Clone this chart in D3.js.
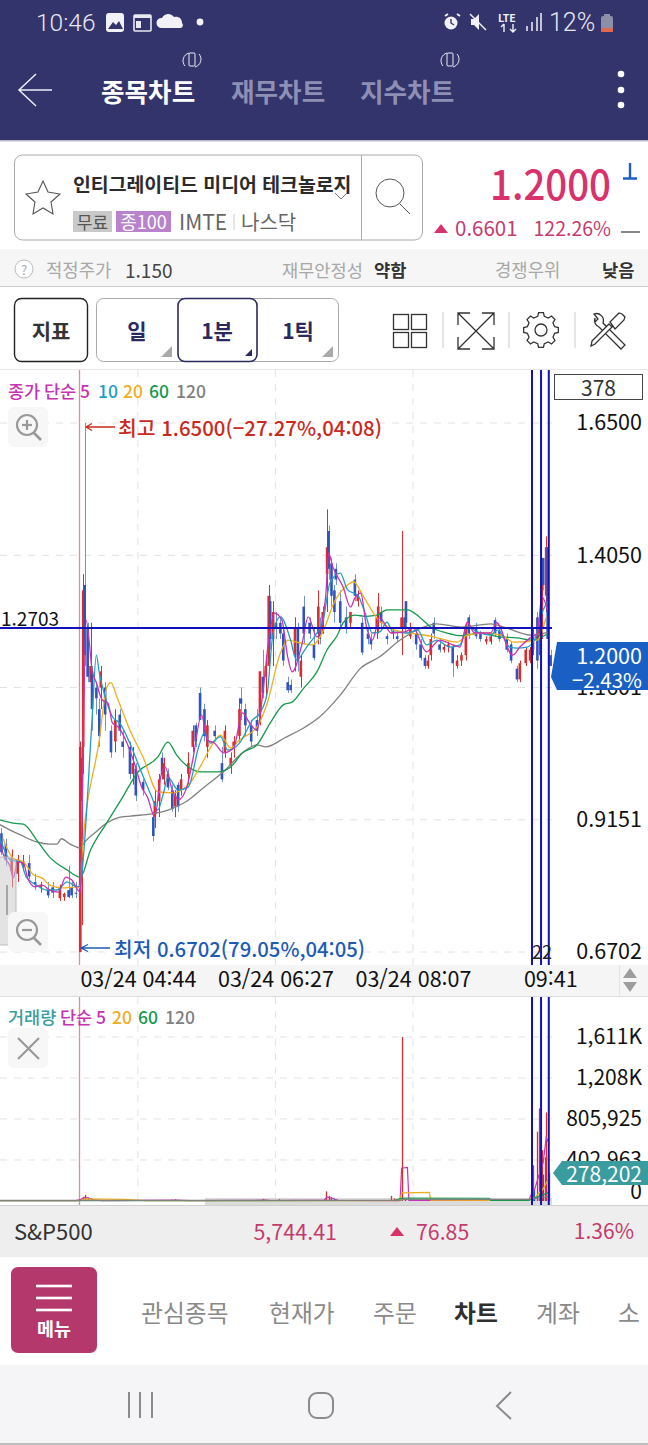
<!DOCTYPE html>
<html lang="ko">
<head>
<meta charset="UTF-8" />
<script src="https://d3js.org/d3.v7.min.js"></script>
<title>IMTE 1분 차트</title>
<style>
  html, body { margin: 0; padding: 0; background: #fff; }
  svg { display: block; font-family: "Noto Sans CJK KR", "Noto Sans", sans-serif; }
</style>
</head>
<body>
<script type="text/javascript">
// candles: bar, open, high, low, close
var candles = [
  [1,.890,.900,.850,.855],[4,.870,.880,.830,.840],[8,.820,.860,.790,.845],[12,.815,.850,.800,.840],
  [16,.830,.850,.820,.838],[20,.835,.850,.805,.810],[24,.800,.815,.785,.795],[28,.790,.800,.780,.795],
  [33,.785,.800,.770,.775],[36,.790,.800,.770,.780],[41,.770,.795,.765,.790],[44,.772,.780,.765,.778],
  [47,.785,.830,.770,.772],[49,.790,.800,.770,.775],[52,.780,.800,.770,.778],
  [55,.670,1.060,.670,1.050],[56,.950,1.050,.720,1.030],[57,1.050,1.370,1.000,1.340],[58,1.350,1.650,1.200,1.220],
  [60,1.270,1.280,1.170,1.180],[62,1.170,1.280,1.130,1.200],[63,1.190,1.200,1.080,1.120],[66,1.160,1.170,1.110,1.140],
  [68,1.120,1.140,1.050,1.070],[69,1.160,1.200,1.120,1.190],[72,1.160,1.170,1.080,1.110],[76,1.080,1.090,1.030,1.040],
  [79,1.060,1.120,1.040,1.100],[82,1.110,1.120,1.070,1.080],[84,1.060,1.080,1.030,1.050],[89,1.050,1.060,.990,1.000],
  [91,1.000,1.050,.980,1.020],[93,1.010,1.020,.950,.960],[98,.985,.990,.960,.970],[105,.920,.930,.875,.885],
  [106,.920,.970,.900,.950],[109,.950,1.000,.920,.990],[111,1.030,1.040,.990,1.000],[112,.990,1.030,.980,1.020],
  [115,1.000,1.010,.970,.975],[118,.970,.980,.930,.935],[120,.940,.970,.920,.960],[122,.980,.985,.930,.940],
  [124,.970,1.000,.960,.990],[129,1.000,1.040,.980,1.020],[132,1.050,1.090,1.040,1.080],[134,1.090,1.095,1.050,1.060],
  [137,1.150,1.160,1.100,1.100],[140,1.120,1.130,1.060,1.070],[142,1.050,1.100,1.030,1.090],[147,1.080,1.090,1.060,1.070],
  [152,1.020,1.050,.985,.990],[154,1.040,1.090,1.030,1.080],[158,1.015,1.040,1.000,1.030],[160,1.050,1.070,1.030,1.060],
  [164,1.070,1.140,1.060,1.120],[165,1.140,1.160,1.100,1.130],[168,1.120,1.130,1.070,1.090],[172,1.090,1.100,1.050,1.060],
  [176,1.100,1.120,1.070,1.080],[178,1.105,1.190,1.090,1.190],[180,1.180,1.230,1.140,1.150],[182,1.180,1.220,1.140,1.200],
  [184,1.200,1.350,1.190,1.330],[185,1.320,1.330,1.230,1.250],[187,1.250,1.320,1.200,1.300],[189,1.280,1.300,1.250,1.270],
  [192,1.280,1.290,1.250,1.260],[194,1.260,1.270,1.200,1.210],[197,1.170,1.180,1.150,1.155],[199,1.165,1.175,1.150,1.155],
  [202,1.220,1.290,1.190,1.270],[204,1.270,1.280,1.190,1.210],[206,1.180,1.220,1.160,1.210],[208,1.310,1.330,1.240,1.260],
  [212,1.280,1.290,1.250,1.260],[215,1.240,1.270,1.210,1.215],[218,1.260,1.340,1.240,1.310],[219,1.270,1.290,1.240,1.250],
  [221,1.260,1.310,1.260,1.300],[224,1.370,1.490,1.300,1.420],[225,1.450,1.460,1.360,1.380],[227,1.390,1.400,1.310,1.330],
  [229,1.340,1.350,1.280,1.300],[230,1.380,1.390,1.350,1.360],[233,1.320,1.340,1.270,1.280],[237,1.290,1.310,1.260,1.270],
  [240,1.280,1.300,1.270,1.300],[243,1.360,1.370,1.320,1.330],[245,1.320,1.340,1.310,1.330],[248,1.280,1.290,1.220,1.225],
  [252,1.260,1.270,1.240,1.250],[254,1.250,1.260,1.230,1.240],[258,1.270,1.310,1.250,1.290],[259,1.290,1.335,1.260,1.310],
  [261,1.300,1.310,1.270,1.280],[265,1.255,1.260,1.240,1.250],[269,1.260,1.270,1.250,1.265],[272,1.255,1.265,1.245,1.250],
  [275,1.270,1.450,1.220,1.290],[277,1.290,1.310,1.260,1.270],[278,1.320,1.320,1.270,1.280],[281,1.255,1.280,1.250,1.270],
  [285,1.260,1.270,1.230,1.240],[288,1.240,1.250,1.210,1.215],[291,1.215,1.220,1.195,1.200],[293,1.200,1.220,1.195,1.210],
  [295,1.220,1.260,1.210,1.250],[297,1.280,1.290,1.250,1.260],[301,1.240,1.250,1.225,1.230],[304,1.230,1.240,1.225,1.235],
  [307,1.235,1.245,1.225,1.240],[310,1.235,1.240,1.180,1.205],[313,1.200,1.220,1.195,1.210],[316,1.210,1.225,1.200,1.220],
  [319,1.220,1.280,1.210,1.270],[321,1.290,1.295,1.250,1.260],[326,1.270,1.280,1.250,1.255],[329,1.260,1.265,1.245,1.250],
  [333,1.245,1.255,1.240,1.250],[336,1.245,1.258,1.240,1.255],[339,1.285,1.290,1.255,1.260],[342,1.265,1.270,1.245,1.250],
  [347,1.250,1.260,1.225,1.230],[350,1.240,1.245,1.205,1.210],[354,1.195,1.200,1.170,1.175],[356,1.175,1.210,1.170,1.205],
  [360,1.205,1.235,1.200,1.230],[363,1.210,1.235,1.205,1.230],[365,1.230,1.270,1.220,1.260],[368,1.290,1.300,1.195,1.210],
  [369,1.250,1.290,1.220,1.280],[371,1.290,1.400,1.250,1.380],[372,1.400,1.400,1.340,1.350],[374,1.330,1.440,1.300,1.420],
  [375,1.420,1.430,1.210,1.250],[377,1.220,1.230,1.200,1.200]
];
// moving averages: bar, price
var ma120 = [[0,.906],[7,.896],[14,.887],[25,.874],[34,.870],[39,.870],[42,.880],[48,.870],[55,.863],[58,.874],[65,.891],[73,.909],[81,.919],[89,.922],[104,.926],[115,.933],[127,.948],[140,.976],[153,1.004],[166,1.039],[176,1.054],[182,1.050],[195,1.067],[209,1.087],[219,1.106],[233,1.146],[247,1.196],[260,1.217],[274,1.248],[290,1.272],[299,1.278],[316,1.272],[336,1.278],[347,1.270],[364,1.257],[376,1.263]];
var ma60 = [[0,.915],[9,.909],[16,.907],[26,.874],[34,.846],[46,.822],[55,.809],[62,.859],[73,.909],[84,.957],[94,1.002],[108,1.031],[115,1.059],[121,1.035],[130,1.011],[137,1.004],[149,1.004],[158,1.013],[166,1.039],[176,1.054],[185,1.094],[194,1.128],[200,1.133],[208,1.159],[217,1.189],[224,1.230],[231,1.257],[235,1.280],[243,1.294],[251,1.292],[258,1.294],[265,1.304],[279,1.304],[288,1.289],[295,1.272],[306,1.261],[316,1.256],[329,1.261],[342,1.254],[354,1.252],[364,1.248],[376,1.261]];
var ma20 = [[2,.881],[9,.844],[16,.837],[23,.813],[29,.807],[34,.794],[43,.789],[53,.791],[55,.789],[56,.846],[68,1.063],[73,1.159],[76,1.169],[80,1.143],[89,1.081],[98,1.031],[108,.967],[118,.965],[130,.983],[137,1.013],[144,1.048],[151,1.072],[158,1.048],[164,1.063],[176,1.087],[183,1.131],[192,1.224],[197,1.248],[205,1.243],[214,1.239],[223,1.276],[228,1.313],[238,1.350],[242,1.356],[249,1.328],[258,1.289],[270,1.267],[282,1.261],[297,1.254],[313,1.244],[320,1.257],[332,1.261],[343,1.257],[352,1.244],[368,1.248],[374,1.291]];
var ma10 = [[0,.881],[7,.841],[14,.837],[18,.809],[25,.794],[32,.785],[39,.785],[46,.800],[53,.791],[55,.794],[58,.878],[63,1.100],[66,1.220],[68,1.187],[72,1.143],[77,1.106],[82,1.094],[90,1.050],[97,1.002],[104,.957],[108,.933],[112,.965],[115,.994],[122,.970],[129,.976],[136,1.050],[140,1.076],[144,1.057],[151,1.069],[156,1.044],[164,1.057],[173,1.100],[178,1.113],[183,1.150],[187,1.261],[192,1.291],[199,1.248],[203,1.211],[210,1.235],[217,1.261],[221,1.280],[226,1.354],[233,1.372],[238,1.341],[245,1.331],[250,1.298],[255,1.261],[260,1.263],[265,1.281],[269,1.263],[279,1.261],[286,1.267],[292,1.239],[299,1.248],[308,1.235],[315,1.239],[320,1.272],[327,1.263],[336,1.257],[341,1.267],[349,1.235],[354,1.233],[361,1.235],[366,1.248],[372,1.304],[376,1.322]];
var ma5 = [[0,.869],[3,.846],[7,.828],[9,.807],[12,.837],[16,.835],[19,.807],[24,.791],[29,.794],[34,.785],[40,.781],[45,.809],[49,.804],[55,.781],[56,.896],[59,1.285],[61,1.248],[63,1.193],[66,1.169],[70,1.137],[74,1.131],[77,1.094],[81,1.087],[87,1.057],[92,1.020],[97,.976],[101,.957],[106,.920],[110,.994],[113,1.013],[118,.970],[122,.952],[128,.976],[132,1.026],[138,1.109],[142,1.063],[147,1.057],[153,1.039],[160,1.048],[166,1.113],[171,1.094],[176,1.081],[180,1.150],[184,1.248],[188,1.298],[193,1.285],[197,1.217],[200,1.189],[207,1.243],[211,1.291],[217,1.254],[223,1.328],[225,1.409],[228,1.383],[235,1.346],[240,1.309],[243,1.326],[247,1.335],[251,1.272],[255,1.248],[260,1.289],[268,1.261],[277,1.263],[283,1.270],[292,1.226],[301,1.248],[310,1.239],[315,1.235],[320,1.281],[325,1.261],[336,1.261],[340,1.280],[351,1.220],[356,1.235],[363,1.252],[368,1.261],[371,1.328],[375,1.304]];
var priceTicks = [1.65, 1.405, 1.1601, 0.9151, 0.6702];
var priceTickLabels = ["1.6500", "1.4050", "1.1601", "0.9151", "0.6702"];
var timeBars = [94.4, 188.6, 282.8, 376.8];
var timeLabels = ["03/24 04:44", "03/24 06:27", "03/24 08:07", "09:41"];
var markerBars = [364.3, 370.5, 375.8];
var closeLevel = 1.2703;

// volume
var volBars = [55,57,58,60,62,64,118,120,180,182,191,223,225,227,229,268,270,275,277,365,366,368,369,370,371,372,373,374,375,376];
var volValues = [20000,40000,60000,35000,25000,15000,12000,18000,20000,14000,18000,95000,50000,35000,20000,50000,25000,1611000,12000,350000,120000,680000,910000,300000,500000,260000,430000,870000,450000,278202];
var volUp = [1,1,1,0,1,0,1,1,1,1,1,1,1,1,0,1,1,1,0,1,0,1,1,0,1,0,1,1,0,0];
var volMa5 = [[0,3000],[52,4000],[55,15000],[58,35000],[60,30000],[64,12000],[70,4000],[120,8000],[130,3000],[180,8000],[186,5000],[222,8000],[224,40000],[228,25000],[232,5000],[272,4000],[274,6000],[275,322000],[279,330000],[280,6000],[362,6000],[364,70000],[366,110000],[369,250000],[372,380000],[374,620000],[376,570000]];
var volMa20 = [[0,3000],[55,4000],[58,20000],[85,15000],[100,3000],[274,4000],[275,80000],[294,85000],[295,8000],[360,6000],[366,30000],[372,120000],[376,230000]];
var volMa60 = [[0,4000],[270,5000],[275,28000],[335,27000],[336,6000],[362,6000],[376,85000]];
var volMa120 = [[0,6000],[140,7000],[274,7000],[276,15000],[362,15000],[376,45000]];
var volTicks = [1611000, 1208000, 805925, 402963, 0];
var volTickLabels = ["1,611K", "1,208K", "805,925", "402,963", "0"];

var width = 648, height = 1445;
var svg = d3.select("body").append("svg").attr("width", width).attr("height", height);

var col5 = "#c832b4", col10 = "#1f9fc4", col20 = "#efae1e", col60 = "#169a4c", col120 = "#808080";
var upCol = "#d92c2e", downCol = "#3054bd";

function txt(g, x, y, s, size, fill, weight, anchor) {
  return g.append("text").attr("x", x).attr("y", y).text(s)
    .attr("font-size", size).attr("fill", fill)
    .attr("font-weight", weight || 400).attr("text-anchor", anchor || "start")
    .attr("dominant-baseline", "central");
}
function rect(g, x, y, w, h, fill, stroke, rx) {
  return g.append("rect").attr("x", x).attr("y", y).attr("width", w).attr("height", h)
    .attr("fill", fill || "none").attr("stroke", stroke || "none").attr("rx", rx || 0);
}
function line(g, x1, y1, x2, y2, stroke, sw) {
  return g.append("line").attr("x1", x1).attr("y1", y1).attr("x2", x2).attr("y2", y2)
    .attr("stroke", stroke).attr("stroke-width", sw || 1).attr("fill", "none");
}
function path(g, d, stroke, sw, fill) {
  return g.append("path").attr("d", d).attr("stroke", stroke || "none")
    .attr("stroke-width", sw || 1).attr("fill", fill || "none");
}

// ---- chrome, top
var top_ = svg.append("g");
rect(top_, 0, 0, width, 140, "#33346b");
rect(top_, 0, 140, width, 1.5, "#b8bace");
txt(top_, 36, 22, "10:46", 24.5, "#e8e8f0", 300).attr("font-family", "Roboto");
// status icons
rect(top_, 106, 13, 18, 19, "#f2f2f6", null, 3);
path(top_, "M108 29l5-7 3 3 3-4 4 8z", null, 1, "#33346b");
rect(top_, 134, 15, 17, 16, "none", "#e8e8f0", 1).attr("stroke-width", 1.6);
rect(top_, 134, 15, 17, 3, "#e8e8f0");
rect(top_, 136, 21, 5, 7, "#e8e8f0");
path(top_, "M161 28a5 5 0 0 1 1-10a7 7 0 0 1 12-1a6 6 0 0 1 8 6a3 3 0 0 1-1 5z", null, 1, "#f2f2f6");
top_.append("circle").attr("cx", 200).attr("cy", 22).attr("r", 3.4).attr("fill", "#f2f2f6");
top_.append("circle").attr("cx", 451).attr("cy", 23).attr("r", 6.5).attr("fill", "#f2f2f6");
path(top_, "M451 19v4l3 2", "#33346b", 1.4);
path(top_, "M445 16l3-2M457 14l3 2", "#f2f2f6", 2);
path(top_, "M471 19h3l5-5v16l-5-5h-3z", null, 1, "#f2f2f6");
path(top_, "M470 14l16 16", "#f2f2f6", 1.5);
txt(top_, 498, 17, "LTE", 10.5, "#f2f2f6", 700);
path(top_, "M504 24v8M501 27l3-3M513 24v8M510 29l3 3 3-3", "#f2f2f6", 1.4);
[[527,5],[532,9],[537,14],[541,18]].forEach(function (b) { line(top_, b[0], 31, b[0], 31 - b[1], "#e8e8f0", 1.6); });
txt(top_, 549, 22, "12%", 25, "#e8e8f0", 300).attr("font-family", "Roboto");
rect(top_, 601, 16, 12, 16, "#8d8ea8", null, 2);
rect(top_, 604, 14, 6, 3, "#8d8ea8");
rect(top_, 601, 28, 12, 4, "#e06a50", null, 1);

path(top_, "M52 90H19M36 74L19 90L36 106", "#eceef8", 1.5);
txt(top_, 101, 90, "종목차트", 25.6, "#fff", 700);
txt(top_, 231, 90, "재무차트", 25.6, "#8e8fb4", 700);
txt(top_, 360, 90, "지수차트", 25.6, "#8e8fb4", 700);
[192, 450].forEach(function (cx) {
  rect(top_, cx - 3, 53, 6, 13, "none", "#eceef8", 1);
  path(top_, "M" + (cx - 7) + " 66a8 8 0 0 1 4-13M" + (cx + 7) + " 54a8 8 0 0 1-4 13", "#eceef8", 1);
});
[74, 90, 105].forEach(function (cy) { top_.append("circle").attr("cx", 621).attr("cy", cy).attr("r", 3.3).attr("fill", "#fff"); });

// stock box
var box = svg.append("g");
rect(box, 14.5, 155, 408, 85, "#fff", "#aaa", 8);
line(box, 361.5, 155, 361.5, 240, "#aaa");
path(box, "M43 181l5 11 12 2-9 8 2 12-10-6-10 6 2-12-9-8 12-2z", "#555", 1.1);
txt(box, 73, 183, "인티그레이티드 미디어 테크놀로지", 19.4, "#2b2b2b", 700);
path(box, "M335 193l6 6 6-6", "#777", 1);
box.append("circle").attr("cx", 390).attr("cy", 193).attr("r", 14).attr("fill", "none").attr("stroke", "#555").attr("stroke-width", 1);
line(box, 400, 204, 410, 214, "#555", 1);
rect(box, 73, 211, 39, 21, "#c9c9c9");
txt(box, 92.5, 221, "무료", 17, "#555", 400, "middle");
rect(box, 116, 211, 55, 21, "#b982cc");
txt(box, 143.5, 221, "종100", 18, "#fff", 400, "middle");
txt(box, 179, 221, "IMTE", 21, "#666");
line(box, 234, 214, 234, 230, "#ccc");
txt(box, 241, 221, "나스닥", 20, "#666");

txt(box, 611, 182, "1.2000", 41, "#d9316c", 500, "end").attr("textLength", 121).attr("lengthAdjust", "spacingAndGlyphs");
path(box, "M630 163v15M623 178.5h14", "#1d5fc4", 2.4);
path(box, "M434 233l7-9 7 9z", null, 1, "#d9316c");
txt(box, 455, 227, "0.6601", 20.5, "#c73a6d");
txt(box, 611, 227, "122.26%", 19.5, "#c73a6d", 400, "end");
line(box, 621, 232, 640, 232, "#555", 1.4);

// info row
var info = svg.append("g");
rect(info, 0, 249, width, 37, "#f6f6f6");
line(info, 0, 286.5, width, 286.5, "#ccc");
info.append("circle").attr("cx", 24).attr("cy", 269).attr("r", 9).attr("fill", "#fff").attr("stroke", "#bbb");
txt(info, 24, 269, "?", 13, "#aaa", 400, "middle");
txt(info, 46, 269, "적정주가", 17.8, "#a8a8a8");
txt(info, 125, 269, "1.150", 19, "#444");
txt(info, 282, 269, "재무안정성", 17.6, "#a8a8a8");
txt(info, 374, 269, "약함", 17.6, "#333", 700);
txt(info, 495, 269, "경쟁우위", 17.8, "#a8a8a8");
txt(info, 602, 269, "낮음", 17.6, "#333", 700);

// toolbar
var tool = svg.append("g");
rect(tool, 14.5, 298.5, 73, 63, "#fff", "#222", 7).attr("stroke-width", 1.4);
txt(tool, 51, 330, "지표", 21, "#333", 700, "middle");
rect(tool, 96.5, 298.5, 242, 63, "#fff", "#aaa", 7);
rect(tool, 178, 298.5, 79, 63, "#fff", "#2a2a5e", 7).attr("stroke-width", 1.6);
txt(tool, 137, 330, "일", 21, "#2a2a5e", 700, "middle");
txt(tool, 217, 330, "1분", 21, "#2a2a5e", 700, "middle");
txt(tool, 298, 330, "1틱", 21, "#2a2a5e", 700, "middle");
path(tool, "M172 357h-11l11-11z", null, 1, "#aaa");
path(tool, "M252 356h-7l7-7z", null, 1, "#2a2a5e");
path(tool, "M333 357h-11l11-11z", null, 1, "#aaa");
[[393,314],[411,314],[393,332],[411,332]].forEach(function (c) { rect(tool, c[0] + .5, c[1] + .5, 15, 15, "#fff", "#333", 0).attr("stroke-width", 1.3); });
[443, 509, 575].forEach(function (x) { line(tool, x, 312, x, 348, "#ccc"); });
path(tool, "M458 313L494 349M494 313L458 349M458 325V313H470M482 313H494V325M458 337V349H470M482 349H494V337", "#333", 1.3);
var gear = "";
d3.range(8).forEach(function (i) {
  var a = i * Math.PI / 4, b = a + .24, c = a - .24;
  gear += (i ? "L" : "M") + (541 + 14 * Math.cos(c)) + " " + (330 + 14 * Math.sin(c)) +
    "L" + (541 + 17.5 * Math.cos(c + .1)) + " " + (330 + 17.5 * Math.sin(c + .1)) +
    "L" + (541 + 17.5 * Math.cos(b - .1)) + " " + (330 + 17.5 * Math.sin(b - .1)) +
    "L" + (541 + 14 * Math.cos(b)) + " " + (330 + 14 * Math.sin(b));
});
path(tool, gear + "Z", "#333", 1.3);
tool.append("circle").attr("cx", 541).attr("cy", 330).attr("r", 6).attr("fill", "none").attr("stroke", "#333").attr("stroke-width", 1.3);
path(tool, "M595 318a7 7 0 0 0 4 9l22 22 4-4-22-22a7 7 0 0 0-9-9l4 5-3 3z", "#333", 1.3, "#fff");
path(tool, "M592 341l17-17 3 3-17 17-4 2zM610 322l9-9 3 1 3 3-1 3-9 9z", "#333", 1.3, "#fff");

// ---- price panel
var xScale = d3.scaleLinear().domain([0, 378]).range([0, 552]);
var yPrice = d3.scaleLinear().domain([0.6702, 1.65]).range([952, 423]);
var yVol = d3.scaleLinear().domain([0, 1611000]).range([1201, 1037]);
function snapX(bar) { return Math.round(xScale(bar)) + .5; }

line(svg, 0, 369.5, width, 369.5, "#e8e8e8");

var dash = "7 7";
var grid = svg.append("g");
grid.selectAll(".h").data(priceTicks).enter().append("line")
  .attr("x1", 0).attr("x2", 552).attr("y1", yPrice).attr("y2", yPrice)
  .attr("stroke", "#e2e2e2").attr("stroke-dasharray", dash);
grid.selectAll(".v").data(timeBars.slice(0, 3)).enter().append("line")
  .attr("x1", xScale).attr("x2", xScale).attr("y1", 370).attr("y2", 965)
  .attr("stroke", "#e2e2e2").attr("stroke-dasharray", dash);
grid.selectAll(".v2").data(timeBars.slice(0, 3)).enter().append("line")
  .attr("x1", xScale).attr("x2", xScale).attr("y1", 997).attr("y2", 1201)
  .attr("stroke", "#e2e2e2").attr("stroke-dasharray", dash);
grid.selectAll(".hv").data(volTicks.slice(0, 4)).enter().append("line")
  .attr("x1", 0).attr("x2", 552).attr("y1", yVol).attr("y2", yVol)
  .attr("stroke", "#e2e2e2").attr("stroke-dasharray", dash);

// session line
line(svg, 79.5, 370, 79.5, 965, "#e08f8a", 1.3);
line(svg, 79.5, 997, 79.5, 1205, "#e08f8a", 1.3);

svg.append("clipPath").attr("id", "plot").append("rect").attr("x", 0).attr("y", 370).attr("width", 552).attr("height", 595);

var pricePlot = svg.append("g").attr("clip-path", "url(#plot)");
var cand = pricePlot.selectAll(".c").data(candles).enter().append("g");
cand.append("line")
  .attr("x1", function (d) { return snapX(d[0]); }).attr("x2", function (d) { return snapX(d[0]); })
  .attr("y1", function (d) { return yPrice(d[2]); }).attr("y2", function (d) { return yPrice(d[3]); })
  .attr("stroke", function (d) { return d[4] >= d[1] ? upCol : "#6f92d8"; })
  .attr("stroke-width", 1);
cand.append("rect")
  .attr("x", function (d) { return xScale(d[0]) - 1.3; }).attr("width", 2.6)
  .attr("y", function (d) { return yPrice(Math.max(d[1], d[4])); })
  .attr("height", function (d) { return Math.max(1, Math.abs(yPrice(d[1]) - yPrice(d[4]))); })
  .attr("fill", function (d) { return d[4] >= d[1] ? upCol : downCol; });

var maLine = d3.line().x(function (d) { return xScale(d[0]); }).y(function (d) { return yPrice(d[1]); }).curve(d3.curveMonotoneX);
[[ma120, col120], [ma60, col60], [ma20, col20], [ma10, col10], [ma5, col5]].forEach(function (s) {
  pricePlot.append("path").datum(s[0]).attr("d", maLine).attr("fill", "none").attr("stroke", s[1]).attr("stroke-width", 1.3);
});

// scroll handle and zoom buttons
rect(svg, -6, 857, 22, 88, "#c8c8c8", "#bbb", 7).attr("fill-opacity", .5);
line(svg, 7, 885, 7, 915, "#999", 1.6);

function zoomBtn(y, sign) {
  rect(svg, 8, y, 40, 40, "#f7f7f7", null, 6);
  svg.append("circle").attr("cx", 27).attr("cy", y + 18).attr("r", 10).attr("fill", "none").attr("stroke", "#999").attr("stroke-width", 2.2);
  line(svg, 34, y + 26, 41, y + 33, "#999", 2.6);
  line(svg, 22, y + 18, 32, y + 18, "#999", 2.2);
  if (sign) line(svg, 27, y + 13, 27, y + 23, "#999", 2.2);
}
zoomBtn(407, true);
zoomBtn(912, false);

// legend
function legend(y, size, items) {
  items.forEach(function (d) { txt(svg, d[1], y, d[0], size, d[2], 500); });
}
legend(390, 17.5, [["종가", 8, col5], ["단순", 44, col5], ["5", 80, col5], ["10", 98, col10], ["20", 123, col20], ["60", 149, col60], ["120", 176, col120]]);
legend(1016, 17.5, [["거래량", 8, "#3a9c9e"], ["단순", 60, col5], ["5", 96, col5], ["20", 112, col20], ["60", 138, col60], ["120", 165, col120]]);

// hi / lo notes
path(svg, "M115 427H87M92 423.5L86 427L92 430.5", "#c92a1e", 1.3);
txt(svg, 118, 427, "최고 1.6500(−27.27%,04:08)", 20.4, "#c92a1e", 500);
path(svg, "M110 948H82M88 944.5L81 948L88 951.5", "#1e5bb5", 1.3);
txt(svg, 114, 948, "최저 0.6702(79.05%,04:05)", 20.3, "#1e5bb5", 500);

// price axis
var priceAxis = svg.append("g").attr("transform", "translate(642,0)")
  .call(d3.axisLeft(yPrice).tickValues(priceTicks).tickSize(0).tickFormat(function (d, i) { return priceTickLabels[i]; }));
priceAxis.select(".domain").remove();
priceAxis.selectAll("text").attr("font-size", 21.5).attr("font-family", "Noto Sans CJK KR").attr("fill", "#111").attr("x", 0);
rect(svg, 554.5, 374.5, 88, 25, "#fff", "#444");
txt(svg, 598.5, 387, "378", 21, "#333", 400, "middle");
txt(svg, 1, 617, "1.2703", 19, "#111");

// time band
rect(svg, 0, 965, width, 31, "#f5f5f5");
line(svg, 0, 996.5, width, 996.5, "#ddd");
line(svg, 619.5, 965, 619.5, 996, "#e4e4e4");
var timeAxis = svg.append("g").attr("transform", "translate(0,972)")
  .call(d3.axisBottom(xScale).tickValues(timeBars).tickSize(0).tickFormat(function (d, i) { return timeLabels[i]; }));
timeAxis.select(".domain").remove();
timeAxis.selectAll("text").attr("font-size", 21.5).attr("font-family", "Noto Sans CJK KR").attr("fill", "#111").attr("y", 0);
path(svg, "M630 968l7 10h-14zM630 992l7-10h-14z", null, 1, "#9d9d9d");

// ---- volume panel
var volPlot = svg.append("g");
rect(volPlot, 205, 1198, 347, 7, "#dcdcdc");
volPlot.selectAll(".vb").data(volBars).enter().append("line")
  .attr("x1", snapX).attr("x2", snapX)
  .attr("y1", yVol(0)).attr("y2", function (d, i) { return yVol(volValues[i]); })
  .attr("stroke", function (d, i) { return volUp[i] ? upCol : downCol; }).attr("stroke-width", 1.3);
var volLine = d3.line().x(function (d) { return xScale(d[0]); }).y(function (d) { return yVol(d[1]); });
[[volMa5, col5], [volMa20, col20], [volMa60, col60], [volMa120, col120]].forEach(function (s) {
  volPlot.append("path").datum(s[0]).attr("d", volLine).attr("fill", "none").attr("stroke", s[1]).attr("stroke-width", 1.2);
});

rect(svg, 8, 1028, 40, 40, "#f7f7f7", null, 6);
path(svg, "M18 1038L39 1059M39 1038L18 1059", "#999", 2.2);

var volAxis = svg.append("g").attr("transform", "translate(642,0)")
  .call(d3.axisLeft(yVol).tickValues(volTicks).tickSize(0).tickFormat(function (d, i) { return volTickLabels[i]; }));
volAxis.select(".domain").remove();
volAxis.selectAll("text").attr("font-size", 21).attr("font-family", "Noto Sans CJK KR").attr("fill", "#111").attr("x", 0);
volAxis.selectAll("text").filter(function (d) { return d === 0; }).attr("dy", "-0.1em");

// marker lines go over both panels
[[370, 965], [997, 1205]].forEach(function (span) {
  svg.selectAll(null).data(markerBars).enter().append("line")
    .attr("x1", xScale).attr("x2", xScale).attr("y1", span[0]).attr("y2", span[1])
    .attr("stroke", "#1212b8").attr("stroke-width", 2);
});
line(svg, 0, yPrice(closeLevel), 552, yPrice(closeLevel), "#1212b8", 1.9);
txt(svg, 542, 951, "22", 18, "#222", 400, "middle");

// price and volume tags
path(svg, "M557 642H648V690H557L551 677Z", null, 1, "#1a5fc4");
txt(svg, 642, 654, "1.2000", 21.5, "#fff", 400, "end");
txt(svg, 642, 679, "−2.43%", 20.5, "#fff", 400, "end");
path(svg, "M562 1161H648V1185H562L553 1173Z", null, 1, "#3a9c9e");
txt(svg, 642, 1173, "278,202", 21, "#fff", 400, "end");

// ---- chrome, bottom
var bottom = svg.append("g");
rect(bottom, 0, 1205, width, 52, "#eeeeee");
line(bottom, 0, 1205.5, width, 1205.5, "#cfcfcf");
txt(bottom, 14, 1230, "S&P500", 22, "#333");
txt(bottom, 337, 1230, "5,744.41", 21.5, "#c73a6d", 400, "end");
path(bottom, "M390 1236l7-9 7 9z", null, 1, "#d9316c");
txt(bottom, 416, 1230, "76.85", 21.3, "#c73a6d");
txt(bottom, 634, 1230, "1.36%", 21, "#c73a6d", 400, "end");

rect(bottom, 11, 1267, 86, 86, "#b5386d", null, 7);
[1286, 1298, 1310].forEach(function (y) { rect(bottom, 36, y - 1.3, 36, 2.6, "#fff"); });
txt(bottom, 54, 1328, "메뉴", 18.5, "#fff", 700, "middle");
[["관심종목", 141, 400, "#8a8a8a"], ["현재가", 269, 400, "#8a8a8a"], ["주문", 373, 400, "#8a8a8a"], ["차트", 454, 700, "#2f2f2f"], ["계좌", 536, 400, "#8a8a8a"], ["소", 618, 400, "#8a8a8a"]].forEach(function (d) {
  txt(bottom, d[1], 1311, d[0], 23.8, d[3], d[2]);
});
rect(bottom, 0, 1365, width, 78, "#f5f5f7");
rect(bottom, 0, 1443, width, 2, "#bdbdbd");
[129, 140, 152].forEach(function (x) { line(bottom, x, 1392, x, 1418, "#8b8b8b", 2); });
rect(bottom, 309, 1393, 24, 25, "none", "#8b8b8b", 8).attr("stroke-width", 2);
path(bottom, "M511 1392L497 1406L511 1419", "#8b8b8b", 2);
</script>
</body>
</html>
